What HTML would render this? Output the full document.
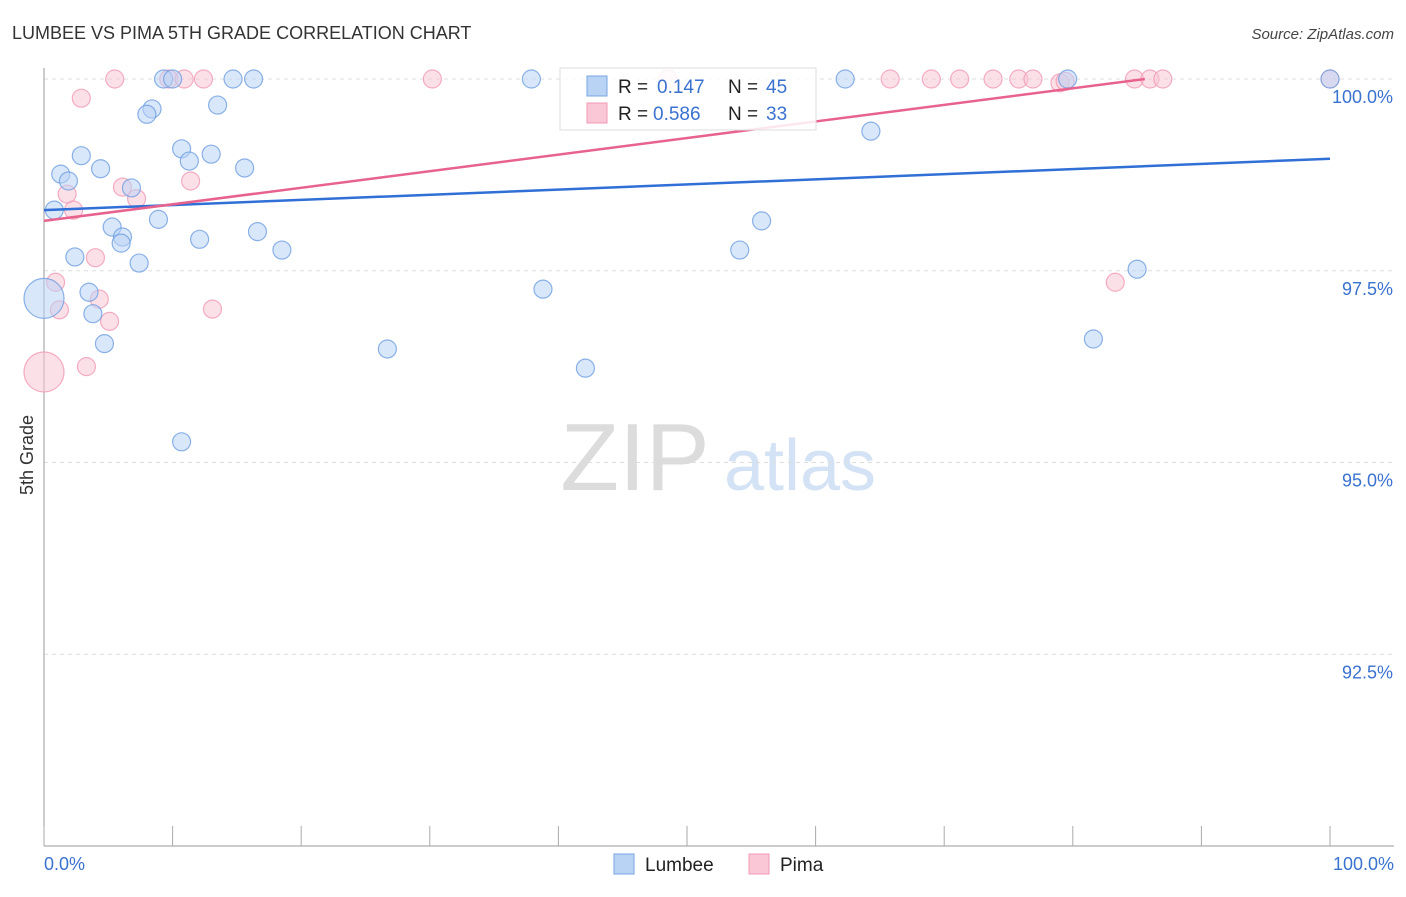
<!DOCTYPE html>
<html><head><meta charset="utf-8"><style>
body{margin:0;background:#fff;font-family:"Liberation Sans",sans-serif}
svg text{font-family:"Liberation Sans",sans-serif}
</style></head><body>
<svg id="chart" width="1406" height="892" xmlns="http://www.w3.org/2000/svg">
<text x="12" y="39" font-size="18" fill="#333">LUMBEE VS PIMA 5TH GRADE CORRELATION CHART</text>
<text x="1394" y="39" font-size="15" fill="#444" text-anchor="end" font-style="italic">Source: ZipAtlas.com</text>
<g>
<text x="635" y="490" font-size="96" fill="#dcdcdc" text-anchor="middle" font-family="Liberation Serif">ZIP</text>
<text x="800" y="490" font-size="72" fill="#d3e2f5" text-anchor="middle">atlas</text>
</g>
<g id="grid"></g>
<g id="axes"></g>
<g id="pts"></g>
<g id="trend"></g>
<text transform="translate(33,455) rotate(-90)" font-size="18" fill="#333" text-anchor="middle">5th Grade</text>
<g>
<rect x="560" y="68" width="256" height="62" fill="#fff" fill-opacity="0.85" stroke="#ddd"/>
<rect x="587" y="76" width="20" height="20" fill="#b9d3f5" stroke="#7aa6e3"/>
<rect x="587" y="103" width="20" height="20" fill="#fac7d6" stroke="#f09ab5"/>
<text x="618" y="93" font-size="19" fill="#222">R = </text><text x="657" y="93" font-size="19" fill="#3a72d0">0.147</text>
<text x="728" y="93" font-size="19" fill="#222">N = </text><text x="766" y="93" font-size="19" fill="#3a72d0">45</text>
<text x="618" y="120" font-size="19" fill="#222">R = </text><text x="653" y="120" font-size="19" fill="#3a72d0">0.586</text>
<text x="728" y="120" font-size="19" fill="#222">N = </text><text x="766" y="120" font-size="19" fill="#3a72d0">33</text>
</g>
<g>
<rect x="614" y="854" width="20" height="20" fill="#b9d3f5" stroke="#7aa6e3"/>
<text x="645" y="871" font-size="19" fill="#222">Lumbee</text>
<rect x="749" y="854" width="20" height="20" fill="#fac7d6" stroke="#f09ab5"/>
<text x="780" y="871" font-size="19" fill="#222">Pima</text>
</g>
</svg>
<script>
const lumbeeX=[9.3,10.0,14.7,16.3,37.9,62.3,79.6,100,8.4,8.0,13.5,64.3,2.9,10.7,13.0,11.3,1.3,1.9,4.4,15.6,6.8,0.8,8.9,5.3,6.1,6.0,12.1,16.6,55.8,2.4,7.4,18.5,54.1,85.0,3.5,38.8,3.8,0,4.7,26.7,81.6,42.1,10.7];
const lumbeeY=[100,100,100,100,100,100,100,100,99.61,99.54,99.66,99.32,99.00,99.09,99.02,98.93,98.76,98.67,98.83,98.84,98.58,98.29,98.17,98.07,97.94,97.86,97.91,98.01,98.15,97.68,97.60,97.77,97.77,97.52,97.22,97.26,96.94,97.14,96.55,96.48,96.61,96.23,95.27];
const lumbeeBig=[0,0,0,0,0,0,0,0,0,0,0,0,0,0,0,0,0,0,0,0,0,0,0,0,0,0,0,0,0,0,0,0,0,0,0,0,0,1,0,0,0,0,0];
const pimaX=[5.5,9.7,10.9,12.4,30.2,48.5,65.8,69.0,71.2,73.8,75.8,76.9,79.0,79.4,84.8,86.0,87.0,100,2.9,6.1,11.4,1.8,7.2,2.3,4.0,0.9,4.3,1.2,13.1,5.1,3.3,0,83.3];
const pimaY=[100,100,100,100,100,100,100,100,100,100,100,100,99.95,99.97,100,100,100,100,99.75,98.59,98.67,98.50,98.44,98.29,97.67,97.35,97.13,96.99,97.00,96.84,96.25,96.18,97.35];
const pimaBig=[0,0,0,0,0,0,0,0,0,0,0,0,0,0,0,0,0,0,0,0,0,0,0,0,0,0,0,0,0,0,0,1,0];
const yTicks=[100,97.5,95,92.5];
const yTickLabels=["100.0%","97.5%","95.0%","92.5%"];
const lumbeeTrend=[[0,98.29],[100,98.96]];
const pimaTrend=[[0,98.15],[85.6,100]];
const NS="http://www.w3.org/2000/svg";
const X0=44,X1=1330,YT=79,YB=846,YMIN=90,YMAX=100;
const sx=v=>X0+(v/100)*(X1-X0);
const sy=v=>YT+(YMAX-v)/(YMAX-YMIN)*(YB-YT);
function mk(tag,attrs,parent){const e=document.createElementNS(NS,tag);for(const k in attrs)e.setAttribute(k,attrs[k]);parent.appendChild(e);return e;}
const grid=document.getElementById('grid'),axes=document.getElementById('axes'),pts=document.getElementById('pts'),trend=document.getElementById('trend');
yTicks.forEach((t,i)=>{
 const l=mk('line',{x1:X0,x2:1394,y1:sy(t),y2:sy(t),stroke:'#ddd','stroke-dasharray':'4,4'},grid);
 
 
 const tx=mk('text',{x:1393,y:sy(t)+24,'font-size':18,fill:'#3a72d0','text-anchor':'end'},axes);
 tx.textContent=yTickLabels[i];
 
 
});
const ya=mk('line',{x1:X0,x2:X0,y1:68,y2:YB,stroke:'#999'},axes);


const xa=mk('line',{x1:X0,x2:1394,y1:YB,y2:YB,stroke:'#999'},axes);


for(let i=0;i<=10;i++){
 const t=mk('line',{x1:sx(i*10),x2:sx(i*10),y1:YB,y2:YB-20,stroke:'#aaa'},axes);
 
 
}
[[0,"0.0%","start",X0],[100,"100.0%","end",1394]].forEach(a=>{
 const t=mk('text',{x:a[3],y:870,'font-size':18,fill:'#3a72d0','text-anchor':a[2]},axes);
 t.textContent=a[1];
 
 
});
function drawPts(xs,ys,big,fill,stroke,name){
 xs.forEach((x,i)=>{
  const c=mk('circle',{cx:sx(x),cy:sy(ys[i]),r:big[i]?20:9,fill:fill,'fill-opacity':0.55,stroke:stroke,'stroke-opacity':0.8,'stroke-width':1.2},pts);
  
  
 });
}
drawPts(pimaX,pimaY,pimaBig,'#fac7d6','#f09ab5','pima-point');
drawPts(lumbeeX,lumbeeY,lumbeeBig,'#b9d3f5','#6f9fe0','lumbee-point');
const lt=mk('line',{x1:sx(lumbeeTrend[0][0]),y1:sy(lumbeeTrend[0][1]),x2:sx(lumbeeTrend[1][0]),y2:sy(lumbeeTrend[1][1]),stroke:'#2f6fd6','stroke-width':2.5},trend);


const pt=mk('line',{x1:sx(pimaTrend[0][0]),y1:sy(pimaTrend[0][1]),x2:sx(pimaTrend[1][0]),y2:sy(pimaTrend[1][1]),stroke:'#e8628e','stroke-width':2.5},trend);


</script>
</body></html>
